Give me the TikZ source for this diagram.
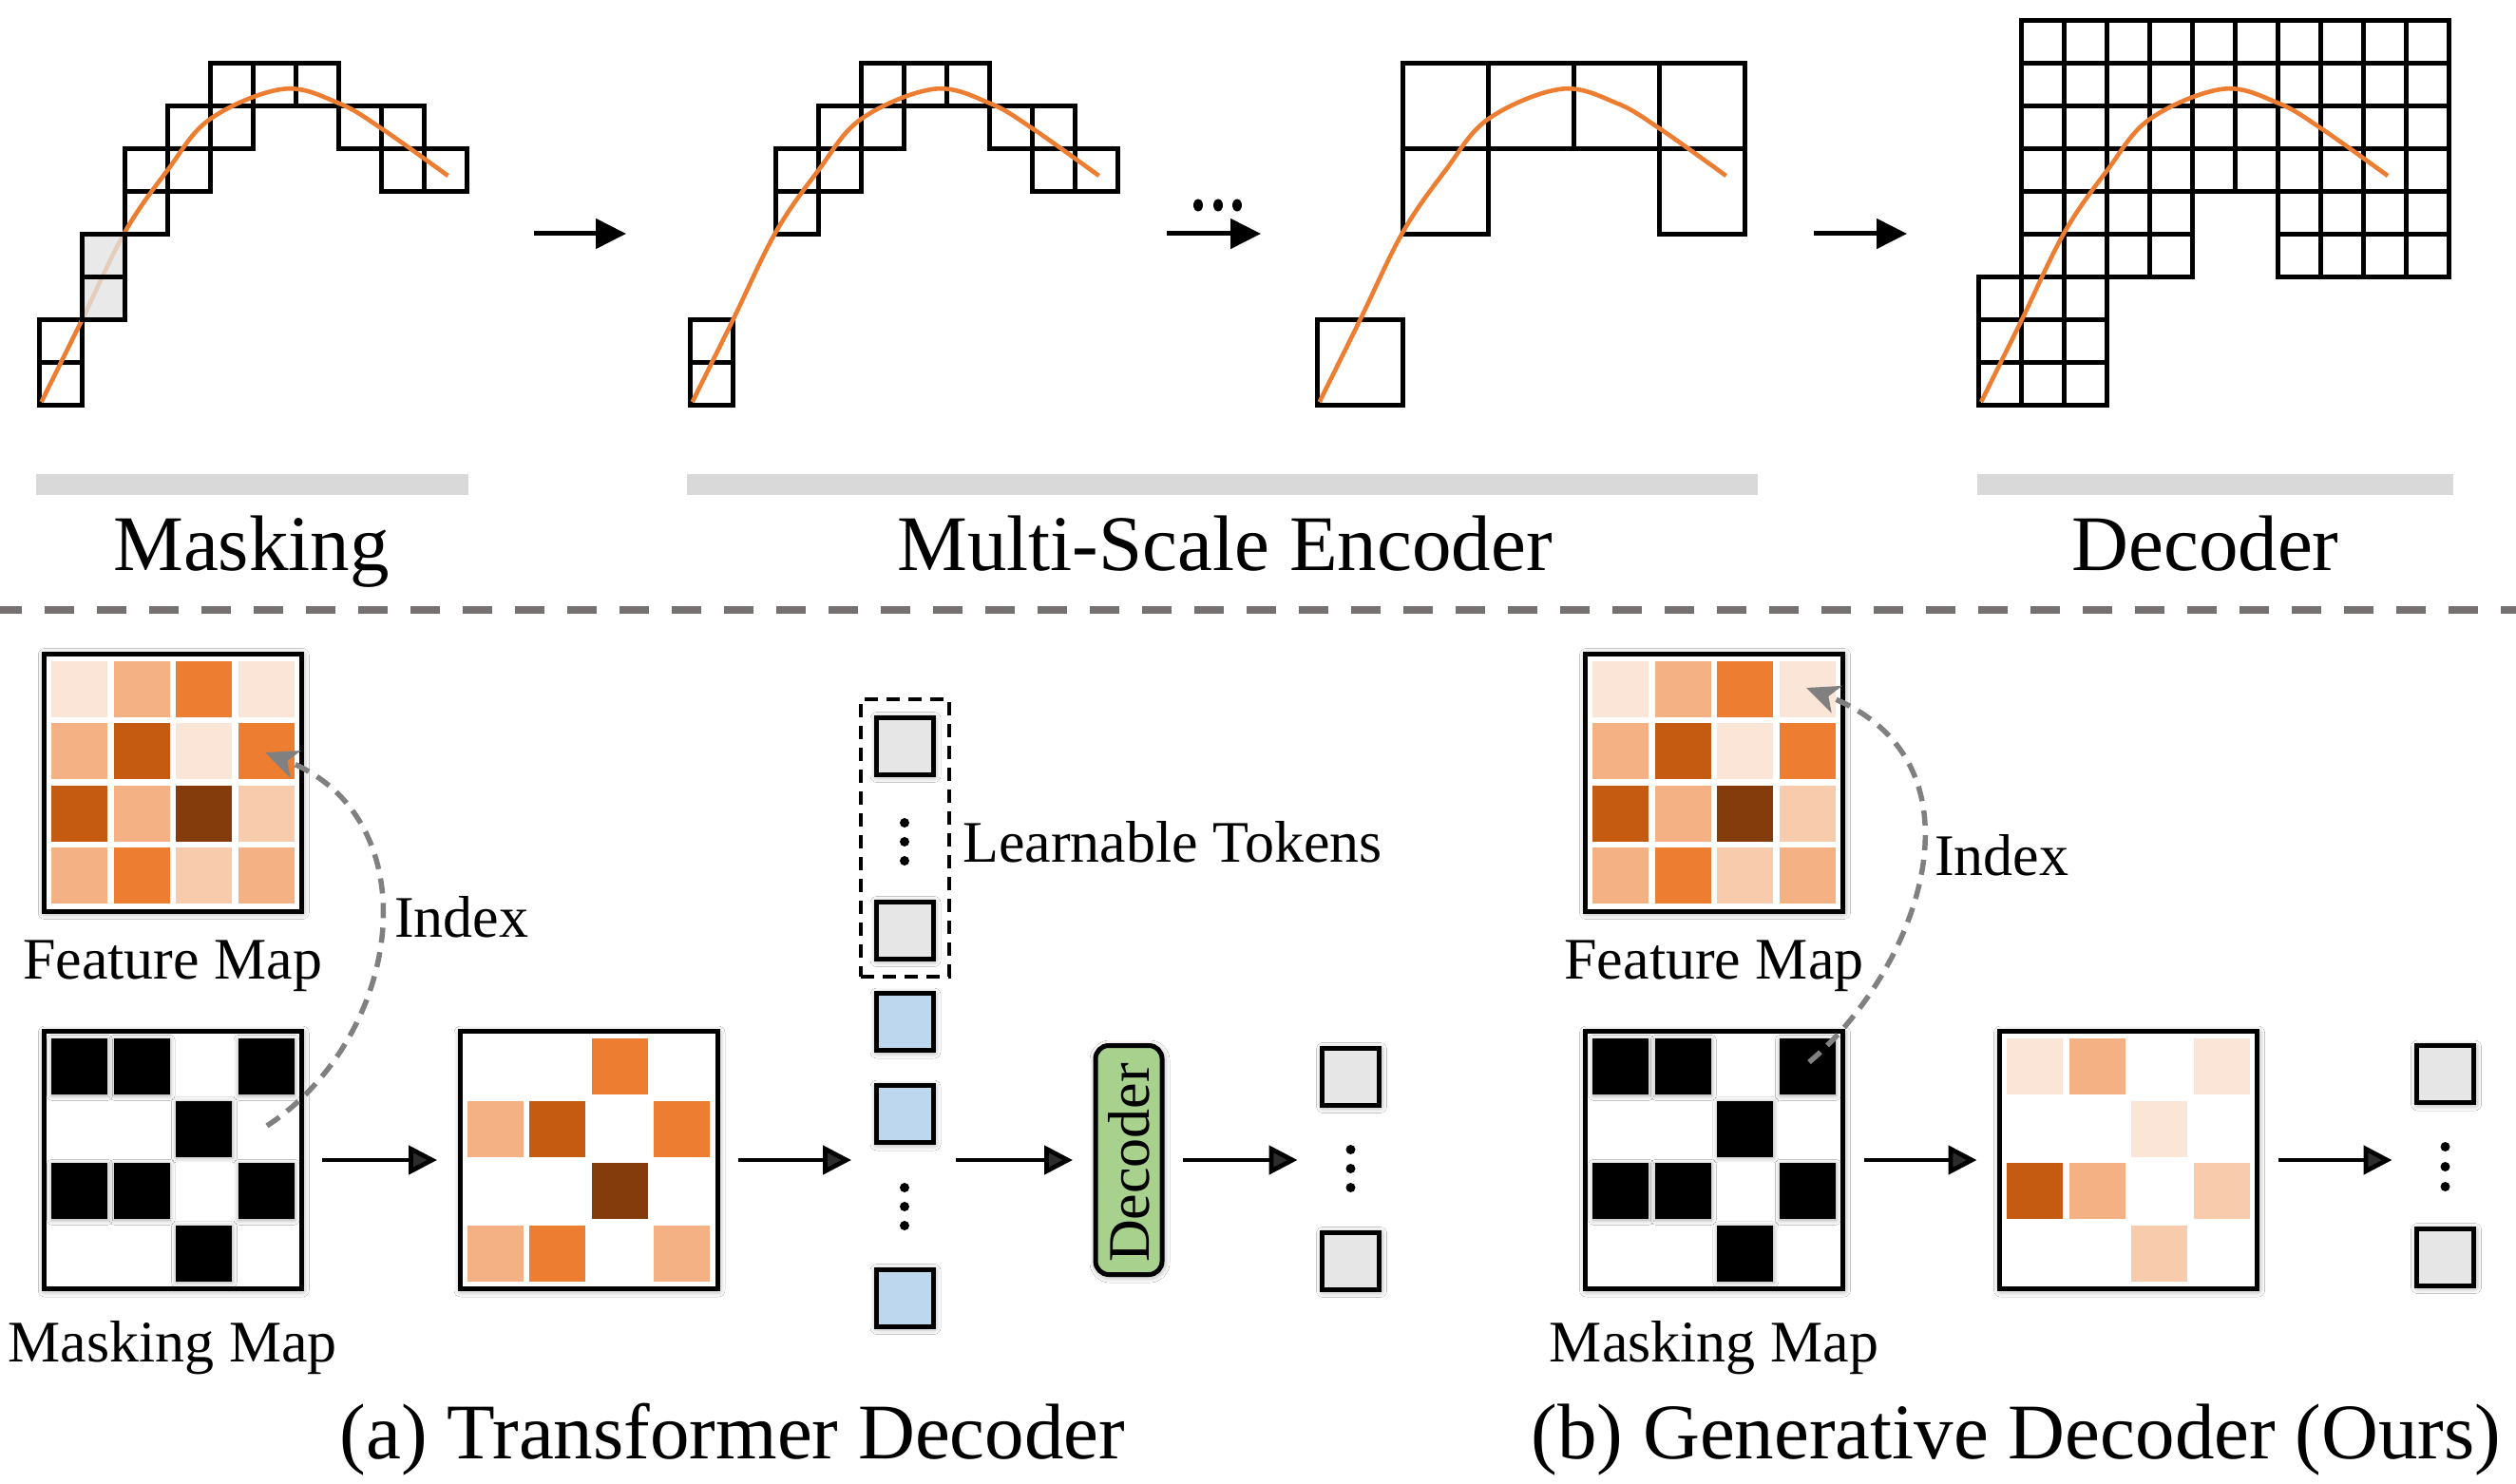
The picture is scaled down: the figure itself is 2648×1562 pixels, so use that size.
\documentclass[tikz,border=0pt]{standalone}
\usepackage{fontspec}
\setmainfont{Liberation Serif}
\usetikzlibrary{arrows.meta,shadows.blur}
\definecolor{fa}{HTML}{FBE5D6}
\definecolor{fb}{HTML}{F8CBAD}
\definecolor{fc}{HTML}{F4B183}
\definecolor{fd}{HTML}{ED7D31}
\definecolor{fe}{HTML}{C55A11}
\definecolor{ff}{HTML}{843C0C}
\definecolor{curveC}{HTML}{ED7D31}
\definecolor{barC}{HTML}{D9D9D9}
\definecolor{sepC}{HTML}{767171}
\definecolor{tokG}{HTML}{E6E6E6}
\definecolor{tokB}{HTML}{BDD7EE}
\definecolor{decG}{HTML}{A9D18E}
\definecolor{idxC}{HTML}{808080}
\definecolor{fadeC}{HTML}{E4E4E4}

\newcommand\drawcurve{\draw[curvestyle] plot[smooth, tension=0.6] coordinates {(0.05,7.92) (1,6.0) (2,3.95) (3,2.5) (4,1.3) (5.7,0.6) (7,0.93) (8,1.52) (9.56,2.63)};}

% #1 cx, #2 cy, #3 mode: 0 all cells, 1 visible (mask 0), 2 masked (mask 1), 3 black mask
\newcommand\mapcells[3]{%
  \foreach \c/\m [count=\k from 0] in {fa/1,fc/1,fd/0,fa/1, fc/0,fe/0,fa/1,fd/0, fe/1,fc/1,ff/0,fb/1, fc/0,fd/0,fb/1,fc/0}{%
    \pgfmathtruncatemacro\mci{mod(\k,4)}%
    \pgfmathtruncatemacro\mcj{div(\k,4)}%
    \pgfmathsetmacro\mcx{#1-127.75+65.5*\mci}%
    \pgfmathsetmacro\mcy{#2-127.75+65.5*\mcj}%
    \ifcase#3\relax
      \fill[\c] (\mcx,\mcy) rectangle ++(59,59);%
    \or
      \ifnum\m=0 \fill[\c] (\mcx,\mcy) rectangle ++(59,59);\fi
    \or
      \ifnum\m=1 \fill[\c] (\mcx,\mcy) rectangle ++(59,59);\fi
    \or
      \ifnum\m=1 \fill[black,cellshadow] (\mcx,\mcy) rectangle ++(59,59);\fi
    \fi
  }%
}

\begin{document}
\begin{tikzpicture}[x=1pt,y=-1pt,
  cellline/.style={line width=5pt},
  curvestyle/.style={draw=curveC, line width=4.6pt},
  bigfont/.style={font=\fontsize{83}{96}\selectfont},
  midfont/.style={font=\fontsize{62}{72}\selectfont},
  sh/.style={blur shadow={shadow xshift=1pt, shadow yshift=-1.5pt, shadow blur radius=7pt, shadow blur steps=8, shadow opacity=45}},
  cellshadow/.style={blur shadow={shadow xshift=0.5pt, shadow yshift=-1pt, shadow blur radius=5pt, shadow blur steps=6, shadow opacity=35}},
  mapbox/.style={draw, line width=5pt, fill=white, minimum width=271pt, minimum height=271pt, inner sep=0pt, outer sep=0pt, sh},
  tokbox/.style={draw, line width=5pt, minimum width=60pt, minimum height=60pt, inner sep=0pt, outer sep=0pt, sh},
  colbox/.style={minimum width=64pt, inner sep=0pt, outer sep=0pt},
  arr/.style={-{Triangle[length=30pt,width=30pt]}, line width=4.8pt, shorten <=22pt, shorten >=24pt},
  toparr/.style={-{Triangle[length=32pt,width=31pt]}, line width=5pt},
  idx/.style={draw=idxC, line width=5.5pt, dash pattern=on 16pt off 10pt, -{Stealth[length=34pt,width=30pt,inset=9pt]}},
  dotm/.style={fill=black}
]
\useasboundingbox (0,0) rectangle (2648,1562);
\fill[white] (0,0) rectangle (2648,1562);

% ---------------- top row ----------------
% Panel 1: masking
\begin{scope}[shift={(41.3,66.7)}, x=45pt, y=-45pt]
  \foreach \cc/\rr in {4/0,5/0,6/0,3/1,4/1,7/1,8/1,2/2,3/2,8/2,9/2,2/3,0/6,0/7}
    \draw[cellline] (\cc,\rr) rectangle ++(1,1);
  \drawcurve
  \fill[fadeC, opacity=0.78] (1,4) rectangle (2,6);
  \draw[cellline] (1,4) rectangle ++(1,1);
  \draw[cellline] (1,5) rectangle ++(1,1);
\end{scope}
% Panel 2: encoder stage 1
\begin{scope}[shift={(726.4,66.7)}, x=45pt, y=-45pt]
  \foreach \cc/\rr in {4/0,5/0,6/0,3/1,4/1,7/1,8/1,2/2,3/2,8/2,9/2,2/3,0/6,0/7}
    \draw[cellline] (\cc,\rr) rectangle ++(1,1);
  \drawcurve
\end{scope}
% Panel 3: encoder coarse stage
\begin{scope}[shift={(1386.4,66.7)}, x=45pt, y=-45pt]
  \foreach \cc/\rr in {2/0,4/0,6/0,8/0,2/2,8/2,0/6}
    \draw[cellline] (\cc,\rr) rectangle ++(2,2);
  \drawcurve
\end{scope}
% Panel 4: decoder
\begin{scope}[shift={(2082.8,66.7)}, x=45pt, y=-45pt]
  \foreach \rr in {-1,0,1,2}
    \foreach \cc in {1,...,10}
      \draw[cellline] (\cc,\rr) rectangle ++(1,1);
  \foreach \rr in {3,4}
    \foreach \cc in {1,2,3,4,7,8,9,10}
      \draw[cellline] (\cc,\rr) rectangle ++(1,1);
  \foreach \rr in {5,6,7}
    \foreach \cc in {0,1,2}
      \draw[cellline] (\cc,\rr) rectangle ++(1,1);
  \drawcurve
\end{scope}

% top arrows
\coordinate (t1s) at (562,246);  \coordinate (t1e) at (659,246);
\coordinate (t2s) at (1228,246); \coordinate (t2e) at (1327,246);
\coordinate (t3s) at (1909,246); \coordinate (t3e) at (2007,246);
\draw[toparr] (t1s) -- (t1e);
\draw[toparr] (t2s) -- (t2e);
\draw[toparr] (t3s) -- (t3e);
\foreach \xx in {1261,1282,1302}
  \fill[dotm] (\xx,216) ellipse [x radius=5pt, y radius=6.5pt];

% gray bars and stage labels
\fill[barC] (38,499) rectangle (493,521);
\fill[barC] (723,499) rectangle (1850,521);
\fill[barC] (2081,499) rectangle (2582,521);
\node[bigfont, anchor=base] (lblmask) at (264.5,600) {Masking};
\node[bigfont, anchor=base] (lblenc) at (1289,600) {Multi-Scale Encoder};
\node[bigfont, anchor=base] (lbldec) at (2321,600) {Decoder};

% separator
\draw[sepC, line width=8pt, dash pattern=on 31pt off 24pt, dash phase=8pt] (0,642) -- (2648,642);

% ---------------- (a) transformer decoder ----------------
\node[mapbox] (fmA) at (181.75,823.5) {};
\mapcells{181.75}{823.5}{0}
\node[mapbox] (mmA) at (181.75,1221) {};
\mapcells{181.75}{1221}{3}
\node[mapbox] (vmA) at (619.5,1221) {};
\mapcells{619.5}{1221}{1}

\node[midfont, anchor=base] (fmAl) at (181.75,1030.6) {Feature Map};
\node[midfont, anchor=base] (mmAl) at (181.75,1433) {Masking Map};

\coordinate (ixAs) at (281,1185);
\coordinate (ixAe) at (279,792);
\draw[idx] (ixAs) .. controls (425,1090) and (455,860) .. (ixAe);
\node[midfont, anchor=base west, inner sep=0pt] (ixAl) at (415,986) {Index};

% learnable tokens
\node[draw, line width=3.5pt, dash pattern=on 14pt off 9pt, minimum width=93pt, minimum height=292pt, inner sep=0pt] (ltbox) at (952.5,882) {};
\node[tokbox, fill=tokG] (lt1) at (952,785) {};
\node[tokbox, fill=tokG] (lt2) at (952,979) {};
\foreach \yy in {866,886,906} \fill[dotm] (952,\yy) circle [radius=5pt];
\node[midfont, anchor=base west, inner sep=0pt] (ltl) at (1013,907) {Learnable Tokens};

\node[tokbox, fill=tokB] (bt1) at (952,1075.5) {};
\node[tokbox, fill=tokB] (bt2) at (952,1172.5) {};
\node[tokbox, fill=tokB] (bt3) at (952,1366) {};
\foreach \yy in {1250,1270,1290} \fill[dotm] (952,\yy) circle [radius=5pt];
\node[colbox, minimum height=356pt] (tokcol) at (952,1221) {};

% decoder block
\node[draw, line width=5pt, fill=decG, rounded corners=14pt, minimum width=70pt, minimum height=241pt, inner sep=0pt, outer sep=0pt, sh] (dec) at (1188,1221) {};
\node[midfont, rotate=90, inner sep=0pt] (dect) at (1188.5,1224) {Decoder};

% outputs (a)
\node[tokbox, fill=tokG] (oa1) at (1421.5,1133) {};
\node[tokbox, fill=tokG] (oa2) at (1421.5,1327) {};
\foreach \yy in {1210,1230,1250} \fill[dotm] (1421.5,\yy) circle [radius=5pt];
\node[colbox, minimum height=258pt] (outA) at (1421.5,1221) {};

\draw[arr] (mmA.east) -- (vmA.west);
\draw[arr] (vmA.east) -- (tokcol.west);
\draw[arr] (tokcol.east) -- (dec.west);
\draw[arr] (dec.east) -- (outA.west);

\node[bigfont, anchor=base] (capA) at (771,1535) {(a) Transformer Decoder};

% ---------------- (b) generative decoder ----------------
\node[mapbox] (fmB) at (1804,823.5) {};
\mapcells{1804}{823.5}{0}
\node[mapbox] (mmB) at (1804,1221) {};
\mapcells{1804}{1221}{3}
\node[mapbox] (vmB) at (2240,1221) {};
\mapcells{2240}{1221}{2}

\node[midfont, anchor=base] (fmBl) at (1804,1030.6) {Feature Map};
\node[midfont, anchor=base] (mmBl) at (1804,1433) {Masking Map};

\coordinate (ixBs) at (1904,1118);
\coordinate (ixBe) at (1901,724);
\draw[idx] (ixBs) .. controls (2020,1020) and (2100,800) .. (ixBe);
\node[midfont, anchor=base west, inner sep=0pt] (ixBl) at (2036,921) {Index};

\node[tokbox, fill=tokG] (ob1) at (2573.5,1130.5) {};
\node[tokbox, fill=tokG] (ob2) at (2573.5,1323) {};
\foreach \yy in {1207,1228,1249} \fill[dotm] (2573.5,\yy) circle [radius=5pt];
\node[colbox, minimum height=258pt] (outB) at (2573.5,1221) {};

\draw[arr] (mmB.east) -- (vmB.west);
\draw[arr] (vmB.east) -- (outB.west);

\node[bigfont, anchor=base] (capB) at (2122,1535) {(b) Generative Decoder (Ours)};
\end{tikzpicture}
\end{document}
